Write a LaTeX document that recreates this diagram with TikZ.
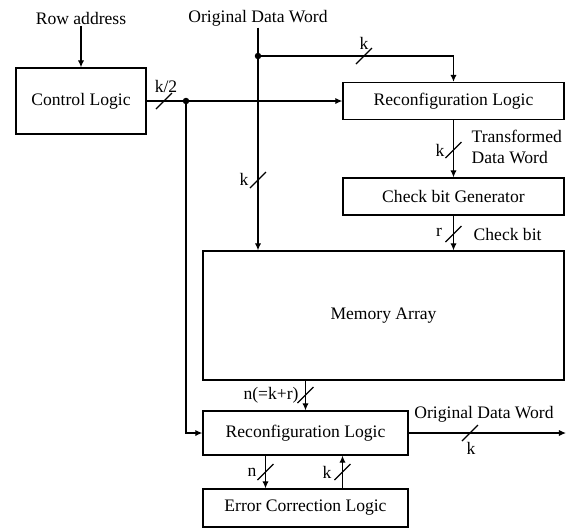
\documentclass[tikz,border=0pt]{standalone}
\usepackage{fontspec}
\setmainfont{Liberation Serif}
\usetikzlibrary{arrows.meta,positioning,calc}

\tikzset{
  blk/.style={draw, line width=0.9pt, inner sep=0pt, font=\fontsize{12.5}{15}\selectfont},
  lbl/.style={inner sep=1pt, font=\fontsize{12.5}{15}\selectfont},
  wire/.style={line width=0.9pt},
  arr/.style={wire, -{Latex[length=5pt,width=4.5pt]}},
  slash/.pic={\draw[wire] (-8,8) -- (8,-8);}
}

\begin{document}
\begin{tikzpicture}[x=0.025cm, y=-0.025cm]
  \useasboundingbox (0,0) rectangle (568,529);

  % blocks
  \node[blk, minimum width=3.25cm, minimum height=1.65cm] (ctrl) at (81,101) {Control Logic};
  \node[blk, minimum width=5.525cm, minimum height=0.925cm] (rc1) at (453.5,101) {Reconfiguration Logic};
  \node[blk, minimum width=5.525cm, minimum height=0.925cm] (cbg) at (453.5,196.5) {Check bit Generator};
  \node[blk, minimum width=9.025cm, minimum height=3.225cm] (mem) at (383.5,315.5) {Memory Array};
  \node[blk, minimum width=5.125cm, minimum height=1.1cm] (rc2) at (305.5,433) {Reconfiguration Logic};
  \node[blk, minimum width=5.125cm, minimum height=0.95cm] (ecl) at (305.5,508) {Error Correction Logic};

  % inputs and outputs
  \node[lbl] (row) at (81,18) {Row address};
  \node[lbl] (odw) at (258,18) {Original Data Word};
  \coordinate (out) at (566,433);
  \coordinate (split1) at (258,56);
  \coordinate (split2) at (186,101);

  % connectors
  \draw[arr] (row.south) -- (ctrl.north);
  \draw[arr] (odw.south) -- (odw.south |- mem.north);
  \draw[arr] (split1) -- (split1 -| rc1.north) -- (rc1.north);
  \draw[arr] (ctrl.east) -- (rc1.west);
  \draw[arr] (split2) -- (split2 |- rc2.west) -- (rc2.west);
  \draw[arr] (rc1.south) -- (cbg.north);
  \draw[arr] (cbg.south) -- (cbg.south |- mem.north);
  \draw[arr] (rc2.north |- mem.south) -- (rc2.north);
  \draw[arr] (rc2.east) -- (out);
  \draw[arr] ($(rc2.south)+(-40,0)$) -- ($(ecl.north)+(-40,0)$);
  \draw[arr] ($(ecl.north)+(37,0)$) -- ($(rc2.south)+(37,0)$);

  \fill (split1) circle[radius=2.3pt];
  \fill (split2) circle[radius=2.3pt];

  % bus widths
  \pic at (364,56) {slash};
  \node[lbl] (kA) at (364,43) {k};
  \pic at (164,101) {slash};
  \node[lbl] (kB) at (166,86) {k/2};
  \pic at (258,180) {slash};
  \node[lbl] (kC) at (244,179) {k};
  \pic at (453.5,150) {slash};
  \node[lbl] (kD) at (440,150) {k};
  \node[lbl, align=left, anchor=west] (tdw) at (470,147) {Transformed\\Data Word};
  \pic at (453.5,234) {slash};
  \node[lbl] (rB) at (439,232) {r};
  \node[lbl, anchor=west] (cb) at (472,234) {Check bit};
  \pic at (305.5,395) {slash};
  \node[lbl] (nkr) at (271,395) {n(=k+r)};
  \node[lbl] (odw2) at (484,414) {Original Data Word};
  \pic at (470,433) {slash};
  \node[lbl] (kE) at (471,448) {k};
  \pic at (265.5,472) {slash};
  \node[lbl] (nB) at (252,472) {n};
  \pic at (342.5,472) {slash};
  \node[lbl] (kF) at (327,472) {k};
\end{tikzpicture}
\end{document}
